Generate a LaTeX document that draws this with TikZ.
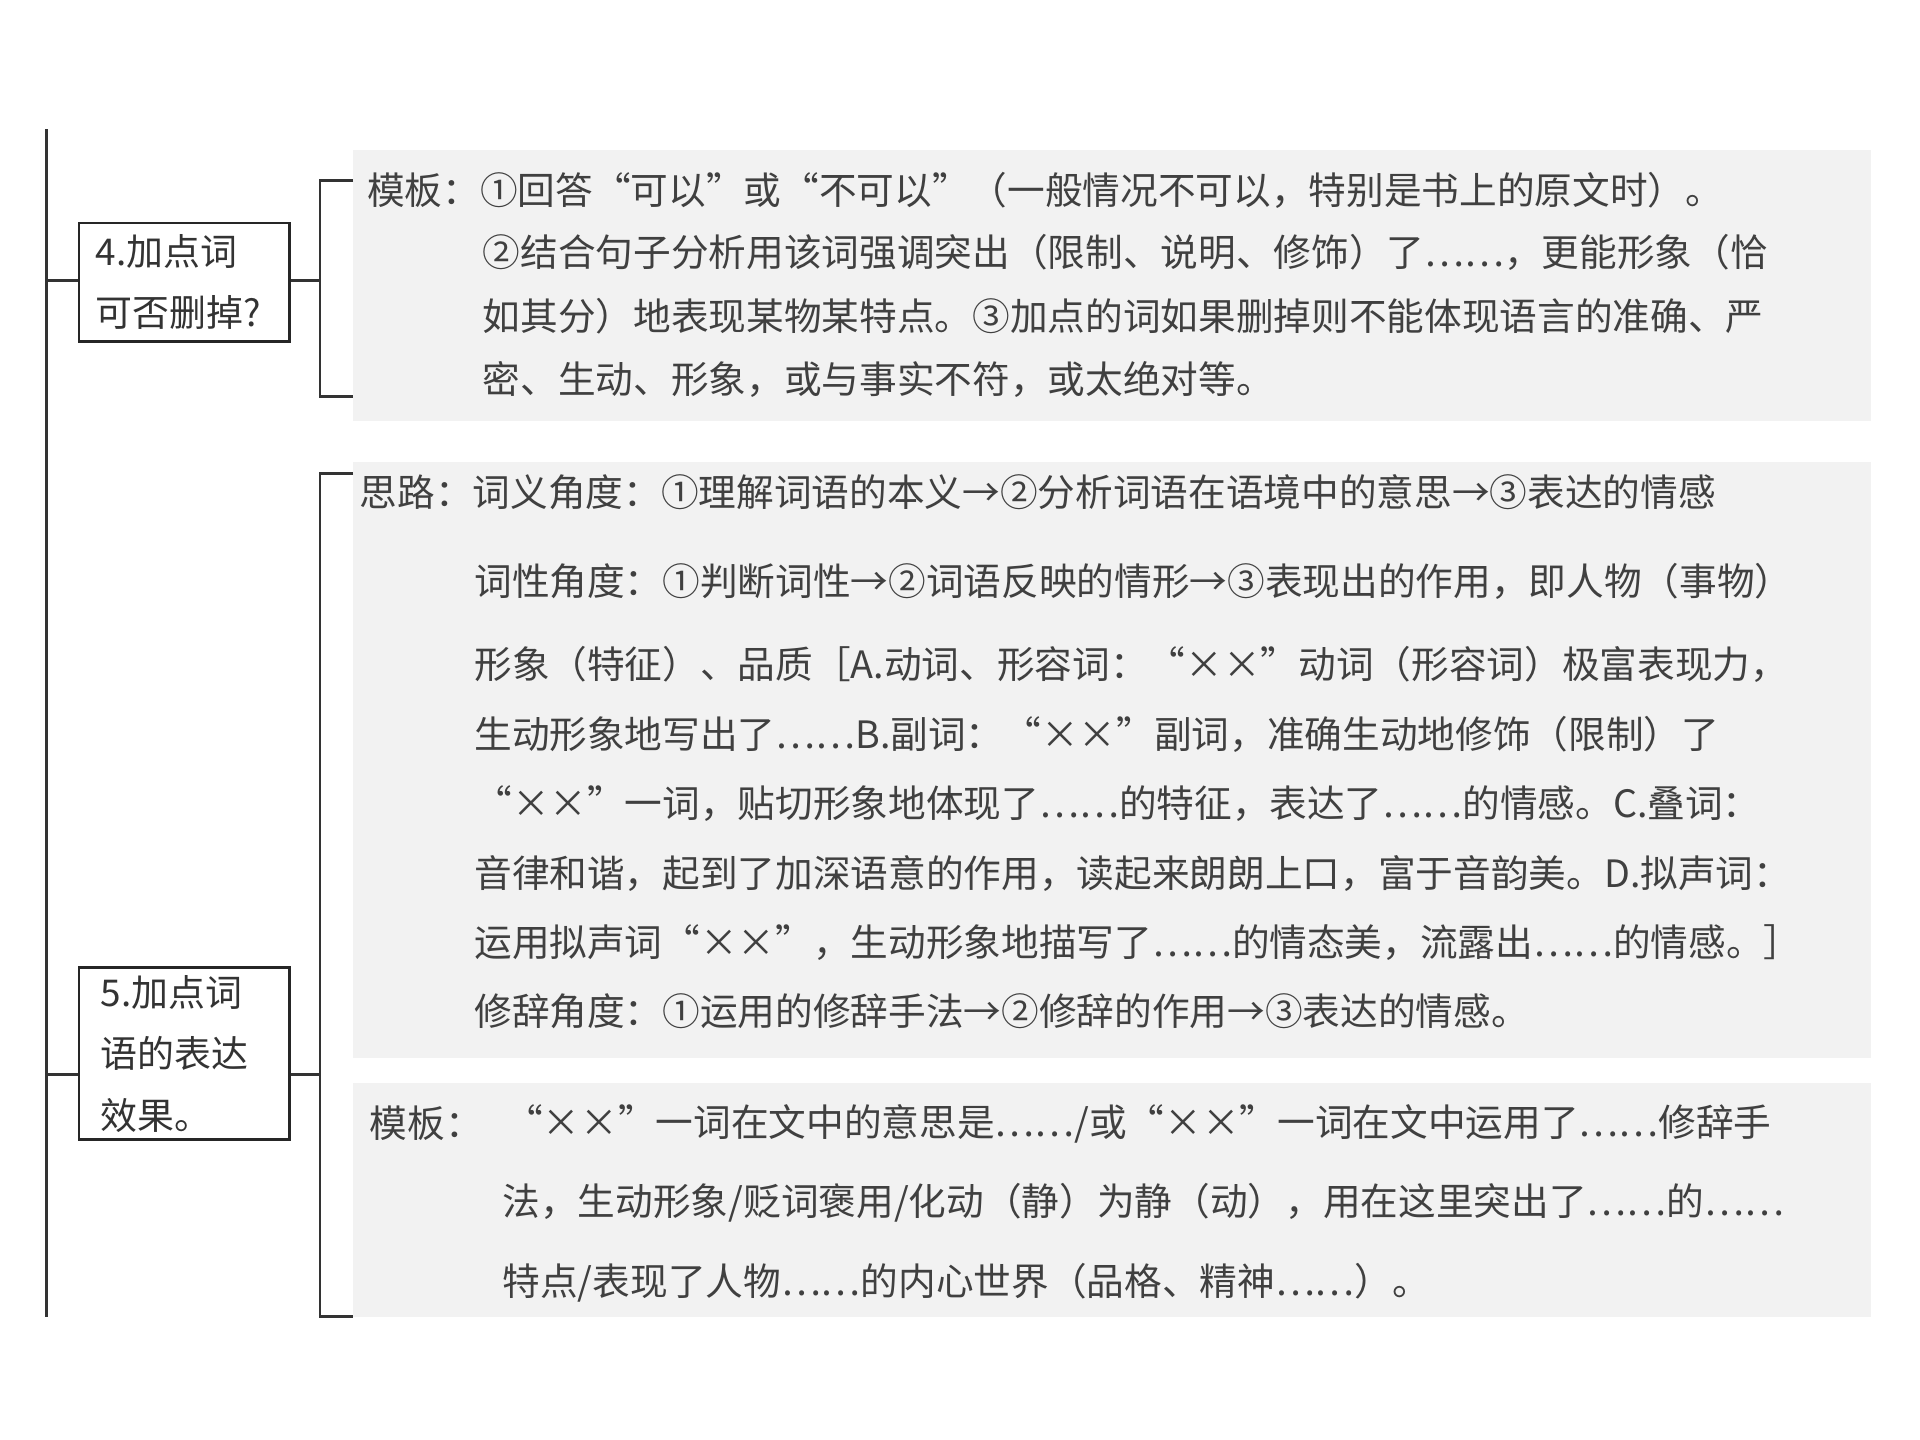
\documentclass[tikz,border=0pt]{standalone}
\usepackage{fontspec}
\setmainfont{Noto Sans CJK SC}
\begin{document}
\begin{tikzpicture}[x=0.5pt,y=-0.5pt,
  panel/.style={fill=black!5,draw=none},
  ln/.style={line width=1.2pt,draw=black!80},
  tx/.style={anchor=west,inner sep=0pt,text=black!75,font=\fontsize{15.3}{17}\selectfont},
  bx/.style={draw=black!85,line width=1.2pt,minimum width=85.5pt,align=left,anchor=north west,inner sep=0pt,font=\fontsize{15}{25}\selectfont,text=black!80}]
\useasboundingbox (0,0) rectangle (1560,1170);
\fill[panel] (287,122) rectangle (1520,342);
\fill[panel] (287,375) rectangle (1520,860);
\fill[panel] (287,880) rectangle (1520,1070);
\draw[ln] (38,105) -- (38,1070);
\node[bx,minimum height=48pt,text width=84pt] (b4) at (63,180) {\hspace{6pt}4.加点词\\\hspace{6pt}可否删掉?};
\node[bx,minimum height=70pt,text width=84pt] (b5) at (63,785) {\hspace{8pt}5.加点词\\\hspace{8pt}语的表达\\\hspace{8pt}效果。};
\coordinate (l4) at (38,228); \coordinate (r4) at (260,228);
\coordinate (l5) at (38,873); \coordinate (r5) at (260,873);
\draw[ln] (l4) -- (l4 -| b4.west); \draw[ln] (r4 -| b4.east) -- (r4);
\draw[ln] (l5) -- (l5 -| b5.west); \draw[ln] (r5 -| b5.east) -- (r5);
\draw[ln] (287,147) -- (260,147) -- (260,322) -- (287,322);
\draw[ln] (287,385) -- (260,385) -- (260,1070) -- (287,1070);
\node[tx] (a1) at (298,155) {模板：①回答“可以”或“不可以”（一般情况不可以，特别是书上的原文时）。};
\node[tx] (a2) at (392,205) {②结合句子分析用该词强调突出（限制、说明、修饰）了……，更能形象（恰};
\node[tx] (a3) at (392,257) {如其分）地表现某物某特点。③加点的词如果删掉则不能体现语言的准确、严};
\node[tx] (a4) at (392,308) {密、生动、形象，或与事实不符，或太绝对等。};
\node[tx] (c1) at (292,400) {思路：词义角度：①理解词语的本义→②分析词语在语境中的意思→③表达的情感};
\node[tx] (c2) at (385,472) {词性角度：①判断词性→②词语反映的情形→③表现出的作用，即人物（事物）};
\node[tx] (c3) at (385,540) {形象（特征）、品质［A.动词、形容词：“××”动词（形容词）极富表现力，};
\node[tx] (c4) at (385,597) {生动形象地写出了……B.副词：“××”副词，准确生动地修饰（限制）了};
\node[tx] (c5) at (385,653) {“××”一词，贴切形象地体现了……的特征，表达了……的情感。C.叠词：};
\node[tx] (c6) at (385,710) {音律和谐，起到了加深语意的作用，读起来朗朗上口，富于音韵美。D.拟声词：};
\node[tx] (c7) at (385,766) {运用拟声词“××”，生动形象地描写了……的情态美，流露出……的情感。］};
\node[tx] (c8) at (385,822) {修辞角度：①运用的修辞手法→②修辞的作用→③表达的情感。};
\node[tx] (d0) at (300,913) {模板：};
\node[tx] (d1) at (410,913) {“××”一词在文中的意思是……/或“××”一词在文中运用了……修辞手};
\node[tx] (d2) at (408,977) {法，生动形象/贬词褒用/化动（静）为静（动），用在这里突出了……的……};
\node[tx] (d3) at (408,1042) {特点/表现了人物……的内心世界（品格、精神……）。};
\end{tikzpicture}
\end{document}
